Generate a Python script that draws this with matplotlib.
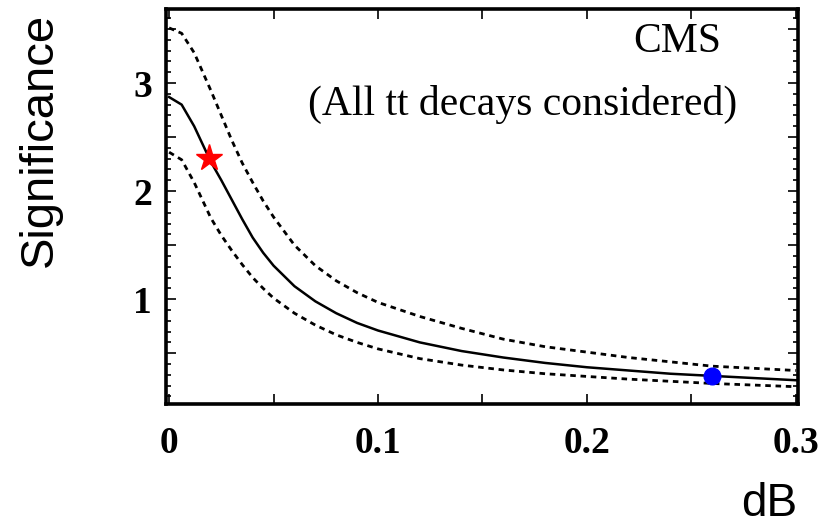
import numpy as np
import matplotlib
matplotlib.use("Agg")
import matplotlib.pyplot as plt
from matplotlib.ticker import MultipleLocator, FuncFormatter

# significance vs dB, central curve and the two dashed bands
dB = [0, 0.006, 0.012, 0.02, 0.025, 0.03, 0.035, 0.04, 0.045, 0.05, 0.06, 0.07,
      0.08, 0.09, 0.10, 0.12, 0.14, 0.16, 0.18, 0.20, 0.22, 0.24, 0.26, 0.28, 0.30]
sig_mid = [2.87, 2.80, 2.60, 2.27, 2.10, 1.92, 1.74, 1.57, 1.43, 1.31, 1.12, 0.98,
           0.87, 0.78, 0.71, 0.60, 0.52, 0.46, 0.41, 0.37, 0.34, 0.31, 0.29, 0.27, 0.25]
sig_up = [3.51, 3.46, 3.28, 2.93, 2.70, 2.47, 2.26, 2.08, 1.91, 1.76, 1.50, 1.31,
          1.17, 1.06, 0.97, 0.84, 0.73, 0.63, 0.56, 0.51, 0.46, 0.42, 0.38, 0.36, 0.34]
sig_lo = [2.36, 2.29, 2.08, 1.75, 1.59, 1.45, 1.32, 1.20, 1.10, 1.01, 0.87, 0.76,
          0.67, 0.60, 0.54, 0.45, 0.39, 0.345, 0.31, 0.285, 0.26, 0.24, 0.22, 0.205, 0.19]

star_pt = (0.019, 2.31)
dot_pt = (0.26, 0.29)

fig = plt.figure(figsize=(8.32, 5.29), dpi=100)
ax = fig.add_axes([0.1995, 0.2363, 0.7595, 0.7467])

ax.plot(dB, sig_mid, color='black', lw=1.8, solid_joinstyle='round')
ax.plot(dB, sig_up, color='black', lw=2.0, linestyle=(0, (2, 1.7)))
ax.plot(dB, sig_lo, color='black', lw=2.0, linestyle=(0, (2, 1.7)))
ax.plot(*star_pt, marker='*', color='red', ms=20, mec='red', zorder=5)
ax.plot(*dot_pt, marker='o', color='blue', ms=12, mec='blue', zorder=5)

ax.set_xlim(-0.0015, 0.301)
ax.set_ylim(0.03, 3.685)

ax.xaxis.set_major_locator(MultipleLocator(0.05))
ax.xaxis.set_major_formatter(FuncFormatter(
    lambda v, p: ('0' if abs(v) < 1e-9 else '%.1f' % v) if abs(v * 10 - round(v * 10)) < 1e-6 else ''))
ax.yaxis.set_major_locator(MultipleLocator(0.5))
ax.yaxis.set_minor_locator(MultipleLocator(0.1))
ax.yaxis.set_major_formatter(FuncFormatter(
    lambda v, p: '%d' % round(v) if abs(v - round(v)) < 1e-6 else ''))

ax.tick_params(which='both', direction='in', top=True, right=True, width=1.2)
ax.tick_params(which='major', length=7)
ax.tick_params(which='minor', length=3.5)
ax.tick_params(axis='x', pad=16)
ax.tick_params(axis='y', pad=10)
for lab in ax.get_xticklabels() + ax.get_yticklabels():
    lab.set_fontfamily('Liberation Serif')
    lab.set_fontweight('bold')
    lab.set_fontsize(27)

for s in ax.spines.values():
    s.set_linewidth(2.6)

ax.text(0.809, 0.916, 'CMS', transform=ax.transAxes, ha='center', va='center',
        family='Liberation Serif', fontsize=30)
ax.text(0.565, 0.757, '(All tt decays considered)', transform=ax.transAxes,
        ha='center', va='center', family='Liberation Serif', fontsize=30)

fig.text(0.048, 0.735, 'Significance', rotation=90, ha='center', va='center',
         family='Liberation Sans', fontsize=34)
fig.text(0.925, 0.047, 'dB', ha='center', va='center',
         family='Liberation Sans', fontsize=33)

fig.savefig('out.png', dpi=100)
